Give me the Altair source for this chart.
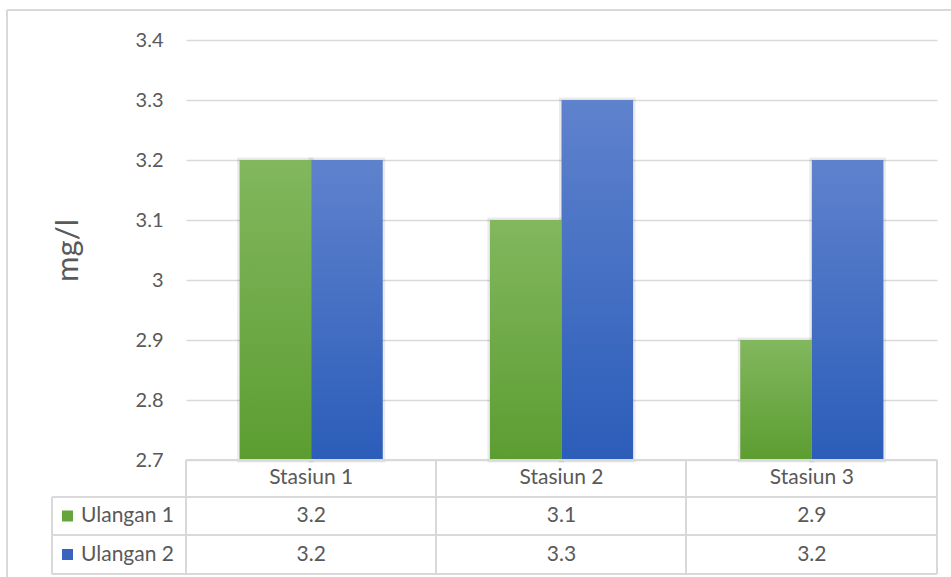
import altair as alt
import pandas as pd

stations = ["Stasiun 1", "Stasiun 2", "Stasiun 3"]
series = ["Ulangan 1", "Ulangan 2"]
ulangan1 = [3.2, 3.1, 2.9]
ulangan2 = [3.2, 3.3, 3.2]
y_ticks = [2.7, 2.8, 2.9, 3.0, 3.1, 3.2, 3.3, 3.4]
y_title = "mg/l"

rows = []
for s, v in zip(stations, ulangan1):
    rows.append({"station": s, "series": series[0], "value": v})
for s, v in zip(stations, ulangan2):
    rows.append({"station": s, "series": series[1], "value": v})
df = pd.DataFrame(rows)

W, H = 751, 420
FONT = "Lato"
TXT = "#595959"
GRID = "#d9d9d9"

grad = {
    "Ulangan 1": ("#82b75e", "#5c9d31"),
    "Ulangan 2": ("#5f82cd", "#2b5db9"),
}
flat = {"Ulangan 1": "#63a63c", "Ulangan 2": "#3864bf"}

x_enc = alt.X("station:N",
              scale=alt.Scale(domain=stations, paddingInner=0.428, paddingOuter=0.214),
              axis=None)
xo_enc = alt.XOffset("series:N", scale=alt.Scale(domain=series, paddingInner=0, paddingOuter=0))
y_enc = alt.Y("value:Q",
              scale=alt.Scale(domain=[2.7, 3.4], zero=False, nice=False),
              axis=alt.Axis(values=y_ticks, format="~g", grid=True, gridColor=GRID, gridWidth=1.5,
                            domain=False, ticks=False, labelFont=FONT, labelFontSize=20,
                            labelColor=TXT, labelPadding=23,
                            title=y_title, titleFont=FONT, titleFontSize=31, titleFontWeight="normal",
                            titleColor=TXT, titleAngle=-90, titleX=-118, titleY=210,
                            titleAlign="center", titleBaseline="middle"))

base = alt.Chart(df)

layers = []
# soft shadow
layers.append(base.mark_bar(fill="transparent", stroke="#000000", strokeOpacity=0.08,
                            strokeWidth=5).encode(x=x_enc, xOffset=xo_enc, y=y_enc,
                                                  y2=alt.datum(2.7)))
for s in series:
    top, bot = grad[s]
    layers.append(
        base.transform_filter(alt.datum.series == s).mark_bar(
            color=alt.LinearGradient(gradient="linear",
                                     stops=[alt.GradientStop(color=top, offset=0),
                                            alt.GradientStop(color=bot, offset=1)],
                                     x1=0, x2=0, y1=0, y2=1)
        ).encode(x=x_enc, xOffset=xo_enc, y=y_enc, y2=alt.datum(2.7))
    )

# table grid lines
line_col = GRID
hl = [(420, 0, W), (457, -134, W), (495, -134, W), (534, -134, W)]
for yy, xa, xb in hl:
    layers.append(alt.Chart(df).mark_rule(color=line_col, strokeWidth=2).encode(
        x=alt.value(xa), x2=alt.value(xb), y=alt.value(yy)))
vl = [(-134, 457, 534), (0, 420, 534), (250, 420, 534), (500, 420, 534), (W, 420, 534)]
for xx, ya, yb in vl:
    layers.append(alt.Chart(df).mark_rule(color=line_col, strokeWidth=2).encode(
        x=alt.value(xx), y=alt.value(ya), y2=alt.value(yb)))

# outer frame
layers.append(alt.Chart(df).mark_rule(color="#d9d9d9", strokeWidth=2).encode(
    x=alt.value(-179), x2=alt.value(800), y=alt.value(-30)))
layers.append(alt.Chart(df).mark_rule(color="#d9d9d9", strokeWidth=2).encode(
    x=alt.value(-179), y=alt.value(-30), y2=alt.value(560)))

tx = alt.X("station:N", bandPosition=0.5,
           scale=alt.Scale(domain=stations, paddingInner=0.428, paddingOuter=0.214), axis=None)

# header
layers.append(base.transform_filter(alt.datum.series == series[0]).mark_text(
    font=FONT, fontSize=21, color=TXT, baseline="middle", align="center").encode(
    x=tx, y=alt.value(438), text="station:N"))

row_y = {series[0]: 476, series[1]: 514.5}
for s in series:
    layers.append(base.transform_filter(alt.datum.series == s).mark_text(
        font=FONT, fontSize=21, color=TXT, baseline="middle", align="center").encode(
        x=tx, y=alt.value(row_y[s]), text=alt.Text("value:Q", format=".1f")))
    one = base.transform_filter((alt.datum.series == s) & (alt.datum.station == stations[0]))
    layers.append(one.mark_square(size=121, opacity=1, color=flat[s]).encode(
        x=alt.value(-118.5), y=alt.value(row_y[s])))
    layers.append(one.mark_text(font=FONT, fontSize=21, color=TXT, baseline="middle",
                                align="left").encode(
        x=alt.value(-105), y=alt.value(row_y[s]), text="series:N"))

chart = alt.layer(*layers).properties(
    width=W, height=H,
    autosize=alt.AutoSizeParams(type="none"),
    padding={"left": 186, "top": 40, "right": 951 - 186 - W, "bottom": 577 - 40 - H},
    background="white",
).configure_view(stroke=None)

chart.save("out.html", embed_options={"renderer": "svg", "actions": False})
